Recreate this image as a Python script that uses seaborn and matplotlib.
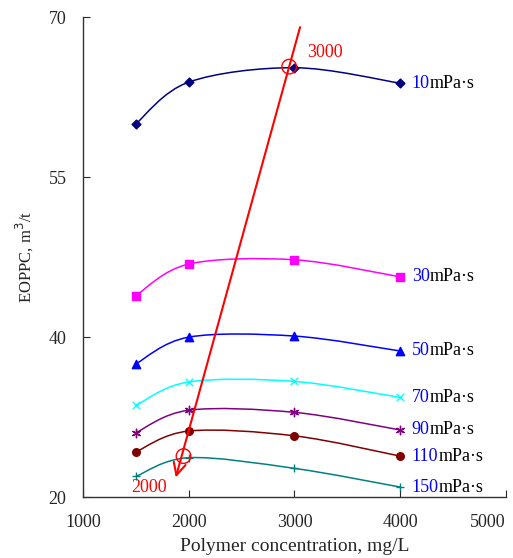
import numpy as np
import pandas as pd
import matplotlib.pyplot as plt
import seaborn as sns
from matplotlib.path import Path
from matplotlib.patches import PathPatch

# polymer concentration, mg/L
conc = [1500, 2000, 3000, 4000]

# EOPPC (m3/t) for each oil viscosity
eoppc_10 = [60.0, 63.9, 65.25, 63.8]
eoppc_30 = [43.9, 46.85, 47.25, 45.65]
eoppc_50 = [37.5, 40.0, 40.1, 38.7]
eoppc_70 = [33.6, 35.8, 35.85, 34.35]
eoppc_90 = [31.05, 33.15, 32.95, 31.3]
eoppc_110 = [29.25, 31.2, 30.75, 28.85]
eoppc_150 = [26.95, 28.7, 27.7, 25.95]

viscosity = ['10', '30', '50', '70', '90', '110', '150']
series = [eoppc_10, eoppc_30, eoppc_50, eoppc_70, eoppc_90, eoppc_110, eoppc_150]
colors = ['#000080', '#FF00FF', '#0000FF', '#00FFFF', '#800080', '#800000', '#008080']
markers = ['D', 's', '^', 'x', (6, 2, 0), 'o', '+']
msizes = [20, 28, 36, 28, 36, 30, 30]

y_ticks = [25, 40, 55, 70]
y_ticklabels = ['20', '40', '55', '70']
x_ticks = [1000, 2000, 3000, 4000, 5000]

df = pd.DataFrame({
    'conc': conc * len(series),
    'eoppc': sum(series, []),
    'visc': np.repeat(viscosity, len(conc)),
})

sns.set_style('ticks')
plt.rcParams['font.family'] = ['Liberation Serif', 'DejaVu Serif']
plt.rcParams['xtick.direction'] = 'in'
plt.rcParams['ytick.direction'] = 'in'

fig = plt.figure(figsize=(5.13, 5.58), dpi=100)
ax = fig.add_axes([0.162, 0.109, 0.824, 0.8605])


def smooth_path(xs, ys):
    # Excel-style smoothed line (Catmull-Rom bezier through the points)
    p = np.column_stack([xs, ys]).astype(float)
    n = len(p)
    verts = [p[0]]
    codes = [Path.MOVETO]
    for i in range(n - 1):
        p0 = p[i - 1] if i > 0 else p[i]
        p3 = p[i + 2] if i + 2 < n else p[i + 1]
        c1 = p[i] + (p[i + 1] - p0) / 6
        c2 = p[i + 1] - (p3 - p[i]) / 6
        verts += [c1, c2, p[i + 1]]
        codes += [Path.CURVE4] * 3
    return Path(verts, codes)


for v, c, m, s in zip(viscosity, colors, markers, msizes):
    d = df[df['visc'] == v]
    ax.add_patch(PathPatch(smooth_path(d['conc'], d['eoppc']), fill=False,
                           edgecolor=c, lw=1.1))
    sns.scatterplot(x=d['conc'], y=d['eoppc'], marker=m, color=c, edgecolor=c,
                    s=s, linewidth=1.0, ax=ax, zorder=3)
    t = ax.text(d['conc'].iloc[-1] + 110, d['eoppc'].iloc[-1], v, color='#0000FF',
                fontsize=13, ha='left', va='center')
    ax.annotate('mPa·s', xy=(1, 0), xycoords=t, ha='left', va='bottom',
                fontsize=13, color='black')

# red arrow and circles
ax.annotate('', xy=(1870, 26.6), xytext=(3060, 69.3),
            arrowprops=dict(arrowstyle='->', color='red', lw=1.5, mutation_scale=22))
ax.scatter([conc[2] - 50, conc[1] - 50], [eoppc_10[2] + 0.1, eoppc_150[1] + 0.15],
           s=110, facecolors='none', edgecolors='red', linewidths=1.0, zorder=4)
ax.text(3120, 66.7, '3000', color='red', fontsize=13, ha='left', va='center')
ax.text(1460, 25.9, '2000', color='red', fontsize=13, ha='left', va='center')

ax.set_xlim(1000, 5000)
ax.set_ylim(25, 70)
ax.set_xticks(x_ticks)
ax.set_yticks(y_ticks)
ax.set_yticklabels(y_ticklabels)
ax.tick_params(labelsize=13, length=5, width=0.8)
ax.tick_params(axis='x', pad=12)
ax.tick_params(axis='y', pad=12)
ax.get_xticklabels()[-1].set_ha('right')
ax.set_xlabel('Polymer concentration, mg/L', fontsize=14, labelpad=5)
ax.set_ylabel('EOPPC, m$^3$/t', fontsize=12, labelpad=10)
sns.despine(ax=ax)
for sp in ['left', 'bottom']:
    ax.spines[sp].set_color('#333333')
    ax.spines[sp].set_linewidth(1.0)

fig.savefig('out.png', dpi=100)
